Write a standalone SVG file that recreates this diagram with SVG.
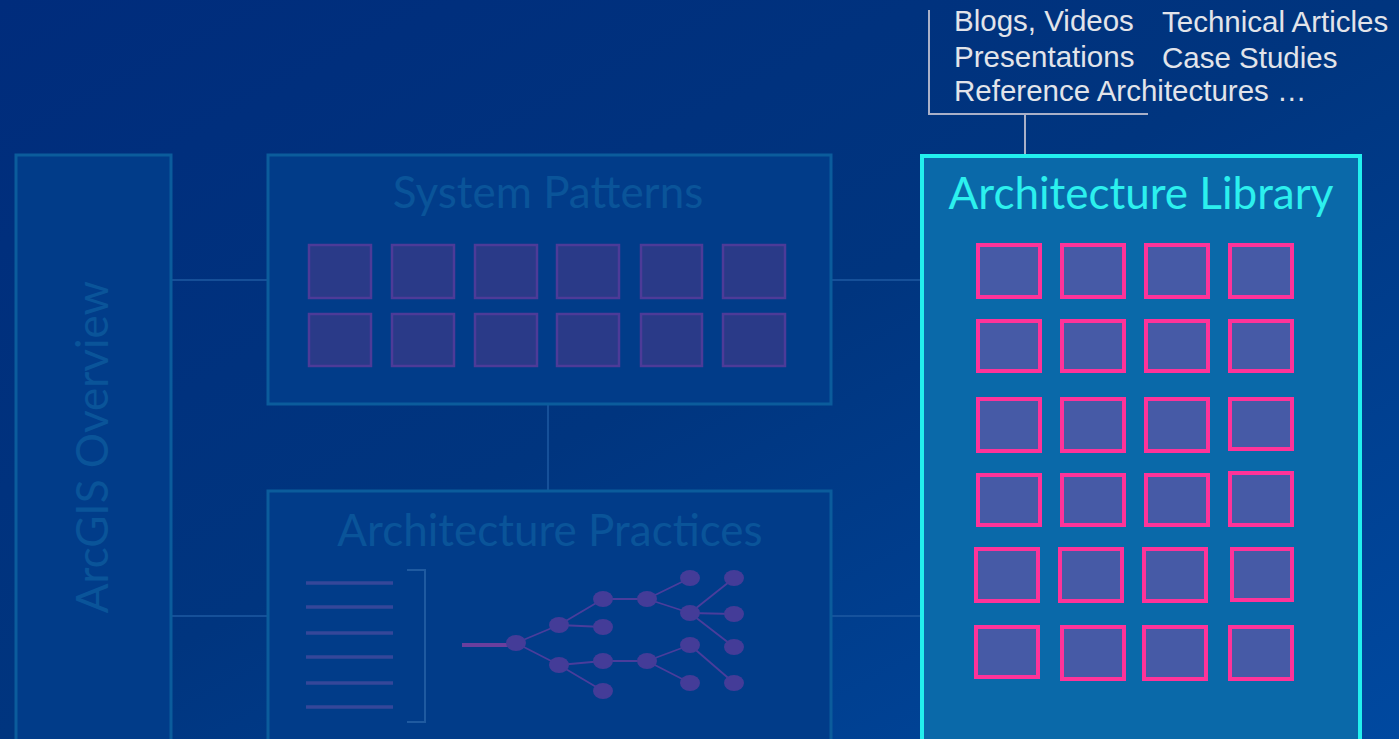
<svg xmlns="http://www.w3.org/2000/svg" width="1399" height="739" viewBox="0 0 1399 739">
  <defs>
    <linearGradient id="bg" x1="0" y1="0" x2="1" y2="1">
      <stop offset="0" stop-color="#002c7c"/>
      <stop offset="0.5" stop-color="#00357f"/>
      <stop offset="1" stop-color="#0049a0"/>
    </linearGradient>
    <style>
      .dim { fill: #013c89; stroke: #0b5c9c; stroke-width: 3; }
      .dimtitle { font-family: Lato, "Open Sans", sans-serif; font-size: 44px; fill: #0a5499; text-anchor: middle; }
      .sq { fill: #2a3a88; stroke: #4d3b98; stroke-width: 2.5; }
      .lib { fill: #0a69a9; stroke: #22f0ee; stroke-width: 4; }
      .libtitle { font-family: Lato, "Open Sans", sans-serif; font-size: 44px; fill: #2cf0ee; text-anchor: middle; }
      .lsq { fill: #465aa6; stroke: #ff3399; stroke-width: 4; }
      .conn { stroke: #1e5aa2; stroke-width: 1.5; fill: none; }
      .note { stroke: #a9b0c8; stroke-width: 2; fill: none; }
      .notetext { font-family: "Liberation Sans", Arial, sans-serif; font-size: 29.5px; fill: #e2e4ea; }
      .list { stroke: #35479a; stroke-width: 3.5; }
      .edge { stroke: #4a3d9c; stroke-width: 1.8; }
      .tn { fill: #443c98; }
    </style>
  </defs>
  <rect width="1399" height="739" fill="url(#bg)"/>

  <g id="connectors">
    <line class="conn" x1="171" y1="280" x2="267" y2="280"/>
    <line class="conn" x1="171" y1="616" x2="267" y2="616"/>
    <line class="conn" x1="831" y1="280" x2="921" y2="280"/>
    <line class="conn" x1="831" y1="616" x2="921" y2="616"/>
    <line class="conn" x1="548" y1="404" x2="548" y2="490"/>
    <line class="note" x1="1025" y1="114" x2="1025" y2="155"/>
  </g>

  <g id="resources">
    <polyline class="note" points="929,10 929,114 1148,114"/>
    <text class="notetext" x="954" y="31">Blogs, Videos</text>
    <text class="notetext" x="1162" y="32">Technical Articles</text>
    <text class="notetext" x="954" y="67">Presentations</text>
    <text class="notetext" x="1162" y="68">Case Studies</text>
    <text class="notetext" x="954" y="101">Reference Architectures …</text>
  </g>

  <g id="arcgis-overview">
    <rect class="dim" x="16" y="155" width="155" height="600"/>
    <text class="dimtitle" transform="translate(108,447) rotate(-90)" x="0" y="0">ArcGIS Overview</text>
  </g>

  <g id="system-patterns">
    <rect class="dim" x="268" y="155" width="563" height="249"/>
    <text class="dimtitle" x="548" y="208">System Patterns</text>
    <g>
      <rect class="sq" x="309" y="245" width="62" height="53"/>
      <rect class="sq" x="392" y="245" width="62" height="53"/>
      <rect class="sq" x="475" y="245" width="62" height="53"/>
      <rect class="sq" x="557" y="245" width="62" height="53"/>
      <rect class="sq" x="641" y="245" width="61" height="53"/>
      <rect class="sq" x="723" y="245" width="62" height="53"/>
      <rect class="sq" x="309" y="314" width="62" height="52"/>
      <rect class="sq" x="392" y="314" width="62" height="52"/>
      <rect class="sq" x="475" y="314" width="62" height="52"/>
      <rect class="sq" x="557" y="314" width="62" height="52"/>
      <rect class="sq" x="641" y="314" width="61" height="52"/>
      <rect class="sq" x="723" y="314" width="62" height="52"/>
    </g>
  </g>

  <g id="architecture-practices">
    <rect class="dim" x="268" y="491" width="563" height="270"/>
    <text class="dimtitle" x="550" y="546">Architecture Practices</text>
    <g>
      <line class="list" x1="306" y1="583" x2="393" y2="583"/>
      <line class="list" x1="306" y1="607" x2="393" y2="607"/>
      <line class="list" x1="306" y1="633" x2="393" y2="633"/>
      <line class="list" x1="306" y1="657" x2="393" y2="657"/>
      <line class="list" x1="306" y1="683" x2="393" y2="683"/>
      <line class="list" x1="306" y1="707" x2="393" y2="707"/>
      <polyline points="407,570 425,570 425,722 407,722" fill="none" stroke="#1f5aa0" stroke-width="2"/>
    </g>
    <g>
      <line x1="462" y1="645" x2="512" y2="645" stroke="#6a3f9e" stroke-width="4"/>
      <line class="edge" x1="516" y1="643" x2="559" y2="625"/>
      <line class="edge" x1="516" y1="643" x2="559" y2="665"/>
      <line class="edge" x1="559" y1="625" x2="603" y2="599"/>
      <line class="edge" x1="559" y1="625" x2="603" y2="627"/>
      <line class="edge" x1="559" y1="665" x2="603" y2="661"/>
      <line class="edge" x1="559" y1="665" x2="603" y2="691"/>
      <line class="edge" x1="603" y1="599" x2="647" y2="599"/>
      <line class="edge" x1="603" y1="661" x2="647" y2="661"/>
      <line class="edge" x1="647" y1="599" x2="690" y2="578"/>
      <line class="edge" x1="647" y1="599" x2="690" y2="613"/>
      <line class="edge" x1="647" y1="661" x2="690" y2="645"/>
      <line class="edge" x1="647" y1="661" x2="690" y2="683"/>
      <line class="edge" x1="690" y1="613" x2="734" y2="578"/>
      <line class="edge" x1="690" y1="613" x2="734" y2="614"/>
      <line class="edge" x1="690" y1="613" x2="734" y2="647"/>
      <line class="edge" x1="690" y1="645" x2="734" y2="683"/>
      <ellipse class="tn" cx="516" cy="643" rx="10" ry="8"/>
      <ellipse class="tn" cx="559" cy="625" rx="10" ry="8"/>
      <ellipse class="tn" cx="559" cy="665" rx="10" ry="8"/>
      <ellipse class="tn" cx="603" cy="599" rx="10" ry="8"/>
      <ellipse class="tn" cx="603" cy="627" rx="10" ry="8"/>
      <ellipse class="tn" cx="603" cy="661" rx="10" ry="8"/>
      <ellipse class="tn" cx="603" cy="691" rx="10" ry="8"/>
      <ellipse class="tn" cx="647" cy="599" rx="10" ry="8"/>
      <ellipse class="tn" cx="647" cy="661" rx="10" ry="8"/>
      <ellipse class="tn" cx="690" cy="578" rx="10" ry="8"/>
      <ellipse class="tn" cx="690" cy="613" rx="10" ry="8"/>
      <ellipse class="tn" cx="690" cy="645" rx="10" ry="8"/>
      <ellipse class="tn" cx="690" cy="683" rx="10" ry="8"/>
      <ellipse class="tn" cx="734" cy="578" rx="10" ry="8"/>
      <ellipse class="tn" cx="734" cy="614" rx="10" ry="8"/>
      <ellipse class="tn" cx="734" cy="647" rx="10" ry="8"/>
      <ellipse class="tn" cx="734" cy="683" rx="10" ry="8"/>
    </g>
  </g>

  <g id="architecture-library">
    <rect class="lib" x="922" y="156" width="438" height="590"/>
    <text class="libtitle" x="1141" y="209">Architecture Library</text>
    <g>
      <rect class="lsq" x="978" y="245" width="62" height="52"/>
      <rect class="lsq" x="1062" y="245" width="62" height="52"/>
      <rect class="lsq" x="1146" y="245" width="62" height="52"/>
      <rect class="lsq" x="1230" y="245" width="62" height="52"/>
      <rect class="lsq" x="978" y="321" width="62" height="50"/>
      <rect class="lsq" x="1062" y="321" width="62" height="50"/>
      <rect class="lsq" x="1146" y="321" width="62" height="50"/>
      <rect class="lsq" x="1230" y="321" width="62" height="50"/>
      <rect class="lsq" x="978" y="399" width="62" height="52"/>
      <rect class="lsq" x="1062" y="399" width="62" height="52"/>
      <rect class="lsq" x="1146" y="399" width="62" height="52"/>
      <rect class="lsq" x="1230" y="399" width="62" height="50"/>
      <rect class="lsq" x="978" y="475" width="62" height="50"/>
      <rect class="lsq" x="1062" y="475" width="62" height="50"/>
      <rect class="lsq" x="1146" y="475" width="62" height="50"/>
      <rect class="lsq" x="1230" y="473" width="62" height="52"/>
      <rect class="lsq" x="976" y="549" width="62" height="52"/>
      <rect class="lsq" x="1060" y="549" width="62" height="52"/>
      <rect class="lsq" x="1144" y="549" width="62" height="52"/>
      <rect class="lsq" x="1232" y="549" width="60" height="51"/>
      <rect class="lsq" x="976" y="627" width="62" height="50"/>
      <rect class="lsq" x="1062" y="627" width="62" height="52"/>
      <rect class="lsq" x="1144" y="627" width="62" height="52"/>
      <rect class="lsq" x="1230" y="627" width="62" height="52"/>
    </g>
  </g>
</svg>
